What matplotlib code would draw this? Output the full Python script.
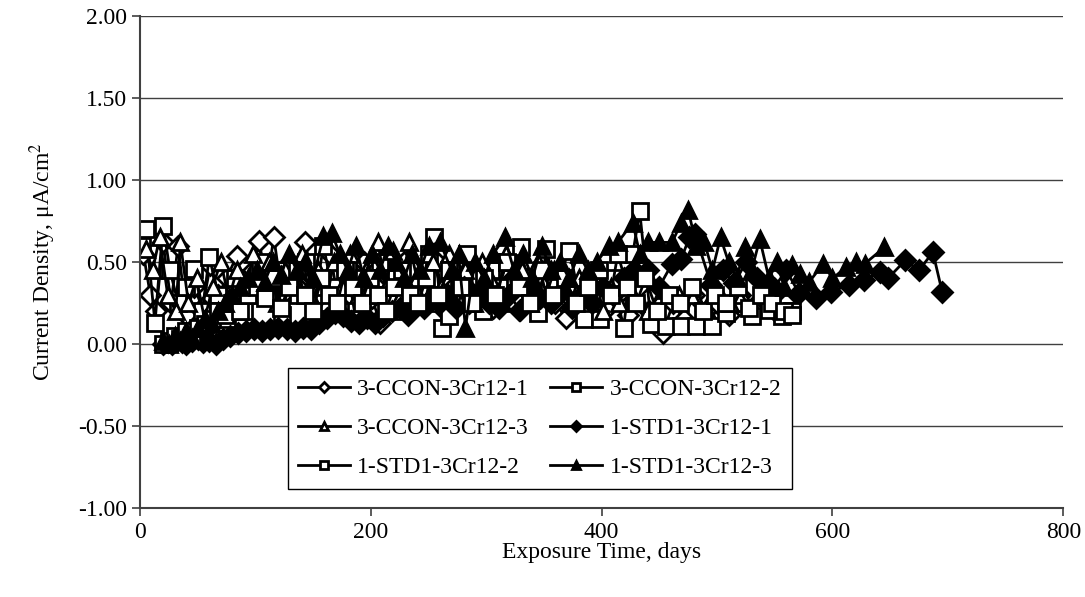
import matplotlib
matplotlib.use('Agg')
import matplotlib.pyplot as plt

plt.rcParams['font.family'] = ['Liberation Serif', 'DejaVu Serif']
plt.rcParams['mathtext.fontset'] = 'stix'

# ---- data (days, uA/cm2) ----
ccon1_x = [3, 9, 14, 20, 27, 33, 40, 47, 54, 61, 68, 75, 84, 91, 98, 103, 110, 116, 123, 130,
           137, 143, 150, 158, 165, 172, 180, 187, 194, 201, 208, 215, 222, 229, 236, 243, 250, 257, 264, 271,
           278, 285, 292, 299, 306, 313, 320, 328, 336, 344, 352, 360, 369, 378, 387, 396, 405, 414, 423, 432,
           441, 453, 462, 471, 480, 490, 500, 510, 520, 530, 540, 550, 560]
ccon1_y = [0.55, 0.30, 0.20, 0.62, 0.25, 0.60, 0.18, 0.35, 0.22, 0.48, 0.30, 0.40, 0.54, 0.28, 0.45, 0.63, 0.38, 0.65, 0.30, 0.50,
           0.35, 0.62, 0.40, 0.30, 0.55, 0.25, 0.45, 0.35, 0.50, 0.28, 0.13, 0.40, 0.30, 0.50, 0.25, 0.42, 0.30, 0.50, 0.20, 0.35,
           0.45, 0.25, 0.40, 0.30, 0.22, 0.45, 0.35, 0.21, 0.40, 0.30, 0.45, 0.25, 0.16, 0.35, 0.28, 0.40, 0.22, 0.30, 0.18, 0.35,
           0.20, 0.07, 0.25, 0.15, 0.30, 0.20, 0.25, 0.18, 0.30, 0.22, 0.28, 0.20, 0.25]

ccon2_x = [2, 5, 13, 20, 26, 33, 40, 47, 54, 60, 68, 75, 82, 90, 97, 104, 111, 118, 123, 130,
           137, 144, 151, 159, 166, 173, 180, 187, 194, 201, 208, 215, 222, 229, 236, 243, 250, 255, 262, 268,
           276, 283, 290, 297, 304, 311, 318, 325, 330, 338, 345, 352, 360, 372, 385, 399, 410, 419, 427, 433,
           443, 456, 469, 482, 496, 508, 519, 530, 545, 556, 565]
ccon2_y = [0.60, 0.70, 0.13, 0.72, 0.45, 0.25, 0.35, 0.46, 0.20, 0.53, 0.30, 0.15, 0.40, 0.20, 0.35, 0.50, 0.30, 0.45, 0.18, 0.40,
           0.30, 0.50, 0.25, 0.60, 0.35, 0.20, 0.45, 0.15, 0.40, 0.30, 0.50, 0.25, 0.40, 0.20, 0.45, 0.30, 0.55, 0.65, 0.10, 0.17,
           0.40, 0.55, 0.30, 0.20, 0.45, 0.35, 0.50, 0.25, 0.59, 0.30, 0.19, 0.58, 0.35, 0.57, 0.15, 0.15, 0.40, 0.10, 0.55, 0.81,
           0.12, 0.11, 0.11, 0.11, 0.11, 0.19, 0.25, 0.17, 0.21, 0.17, 0.20]

ccon3_x = [5, 11, 17, 24, 31, 35, 42, 49, 56, 63, 70, 77, 84, 91, 98, 105, 112, 119, 126, 133,
           140, 147, 154, 161, 168, 175, 182, 189, 196, 206, 213, 219, 226, 233, 240, 247, 254, 261, 268, 275,
           282, 289, 296, 303, 310, 317, 324, 331, 338, 345, 352, 359, 366, 373, 380, 387, 394, 401, 408, 415,
           427, 440, 453, 467, 480, 490, 501, 511, 522]
ccon3_y = [0.58, 0.45, 0.65, 0.30, 0.20, 0.62, 0.25, 0.40, 0.15, 0.35, 0.50, 0.28, 0.45, 0.30, 0.55, 0.35, 0.50, 0.25, 0.45, 0.38,
           0.55, 0.30, 0.45, 0.25, 0.50, 0.35, 0.55, 0.30, 0.45, 0.62, 0.35, 0.57, 0.30, 0.62, 0.40, 0.25, 0.50, 0.35, 0.55, 0.30,
           0.45, 0.25, 0.50, 0.40, 0.30, 0.55, 0.35, 0.45, 0.25, 0.50, 0.30, 0.45, 0.35, 0.25, 0.40, 0.30, 0.45, 0.20, 0.35, 0.25,
           0.30, 0.20, 0.33, 0.30, 0.30, 0.22, 0.33, 0.25, 0.30]

std1_x = [20, 24, 28, 32, 36, 40, 45, 50, 55, 60, 66, 72, 78, 85, 92, 99, 106, 113, 120, 127,
          134, 141, 148, 155, 162, 169, 176, 183, 190, 197, 204, 211, 218, 225, 232, 239, 246, 253, 260, 267,
          274, 281, 288, 295, 302, 311, 320, 329, 338, 347, 356, 365, 374, 383, 392, 401, 410, 419, 428, 440,
          450, 461, 469, 476, 481, 495, 505, 515, 525, 535, 549, 560, 571, 586, 599, 614, 627, 641, 648, 663,
          675, 687, 695]
std1_y = [0.00, 0.01, 0.00, 0.02, 0.01, 0.00, 0.02, 0.03, 0.01, 0.02, 0.00, 0.03, 0.05, 0.07, 0.08, 0.09, 0.08, 0.09, 0.10, 0.09,
          0.08, 0.10, 0.09, 0.13, 0.16, 0.19, 0.17, 0.14, 0.13, 0.16, 0.13, 0.17, 0.20, 0.22, 0.18, 0.25, 0.22, 0.28, 0.25, 0.30,
          0.22, 0.35, 0.28, 0.32, 0.25, 0.22, 0.30, 0.21, 0.35, 0.28, 0.25, 0.32, 0.22, 0.30, 0.25, 0.35, 0.30, 0.40, 0.45, 0.45,
          0.35, 0.49, 0.52, 0.65, 0.67, 0.36, 0.45, 0.37, 0.50, 0.40, 0.34, 0.45, 0.31, 0.28, 0.32, 0.36, 0.39, 0.44, 0.40, 0.51,
          0.45, 0.56, 0.32]

std2_x = [20, 25, 30, 35, 40, 45, 50, 56, 62, 68, 74, 80, 87, 94, 101, 108, 115, 122, 129, 136,
          143, 150, 157, 164, 171, 178, 185, 192, 199, 206, 213, 220, 227, 234, 241, 248, 258, 268, 278, 288,
          298, 308, 318, 328, 338, 348, 358, 368, 378, 388, 398, 408, 414, 422, 430, 438, 448, 458, 468, 478,
          488, 498, 508, 518, 528, 538, 548, 558, 565]
std2_y = [0.00, 0.02, 0.05, 0.03, 0.08, 0.05, 0.10, 0.12, 0.15, 0.20, 0.18, 0.25, 0.20, 0.30, 0.35, 0.28, 0.40, 0.22, 0.35, 0.45,
          0.30, 0.20, 0.40, 0.30, 0.25, 0.45, 0.35, 0.25, 0.40, 0.30, 0.20, 0.35, 0.45, 0.30, 0.25, 0.40, 0.30, 0.45, 0.35, 0.25,
          0.40, 0.30, 0.50, 0.35, 0.25, 0.45, 0.30, 0.40, 0.25, 0.35, 0.45, 0.30, 0.55, 0.35, 0.25, 0.40, 0.20, 0.30, 0.25, 0.35,
          0.20, 0.30, 0.25, 0.35, 0.22, 0.30, 0.25, 0.20, 0.18]

std3_x = [20, 25, 30, 35, 40, 45, 50, 56, 62, 68, 74, 80, 87, 94, 101, 108, 115, 122, 129, 136,
          143, 150, 159, 166, 173, 180, 187, 194, 201, 208, 215, 222, 229, 236, 243, 250, 260, 270, 276, 282,
          290, 298, 306, 316, 324, 332, 340, 348, 356, 364, 372, 380, 388, 396, 406, 414, 427, 433, 440, 450,
          461, 469, 475, 482, 489, 496, 503, 510, 517, 524, 530, 537, 545, 552, 558, 565, 572, 580, 592, 600,
          612, 620, 628, 645]
std3_y = [0.02, 0.00, 0.05, 0.02, 0.08, 0.04, 0.10, 0.15, 0.12, 0.20, 0.25, 0.30, 0.35, 0.40, 0.45, 0.38, 0.50, 0.42, 0.55, 0.45,
          0.50, 0.40, 0.66, 0.68, 0.55, 0.45, 0.60, 0.40, 0.55, 0.45, 0.60, 0.50, 0.40, 0.55, 0.45, 0.60, 0.62, 0.45, 0.55, 0.10,
          0.50, 0.40, 0.55, 0.65, 0.45, 0.55, 0.40, 0.60, 0.45, 0.50, 0.40, 0.55, 0.45, 0.50, 0.60, 0.62, 0.74, 0.55, 0.62, 0.62,
          0.62, 0.74, 0.82, 0.60, 0.62, 0.45, 0.65, 0.50, 0.40, 0.59, 0.45, 0.64, 0.40, 0.50, 0.35, 0.48, 0.43, 0.38, 0.49, 0.40,
          0.47, 0.50, 0.49, 0.59]

labels = ['3-CCON-3Cr12-1', '3-CCON-3Cr12-2', '3-CCON-3Cr12-3',
          '1-STD1-3Cr12-1', '1-STD1-3Cr12-2', '1-STD1-3Cr12-3']
series = [(ccon1_x, ccon1_y, 'D', 'white'),
          (ccon2_x, ccon2_y, 's', 'white'),
          (ccon3_x, ccon3_y, '^', 'white'),
          (std1_x, std1_y, 'D', 'black'),
          (std2_x, std2_y, 's', 'white'),
          (std3_x, std3_y, '^', 'black')]

fig = plt.figure(figsize=(10.85, 5.97), dpi=100)
ax = fig.add_axes([0.129, 0.149, 0.851, 0.824])

handles = []
for (x, y, mk, fc), lab in zip(series, labels):
    ms = 10 if mk == 'D' else 11.5
    h, = ax.plot(x, y, color='black', lw=2.0, marker=mk, markersize=ms,
                 markerfacecolor=fc, markeredgecolor='black', markeredgewidth=2.0,
                 label=lab)
    handles.append(h)

ax.set_xlim(0, 800)
ax.set_ylim(-1.0, 2.0)
ax.set_xticks([0, 200, 400, 600, 800])
ax.set_yticks([-1.0, -0.5, 0.0, 0.5, 1.0, 1.5, 2.0])
ax.set_yticklabels(['%.2f' % v for v in ax.get_yticks()])
ax.tick_params(axis='both', labelsize=17, direction='out', length=6, width=1.2, color='#404040')
ax.tick_params(axis='x', pad=4)
ax.grid(axis='y', color='#404040', lw=1.0)
ax.set_axisbelow(True)
for s in ['top', 'right']:
    ax.spines[s].set_visible(False)
for s in ['left', 'bottom']:
    ax.spines[s].set_color('#404040')
    ax.spines[s].set_linewidth(1.5)

ax.set_xlabel('Exposure Time, days', fontsize=17, labelpad=-1)
ax.set_ylabel('Current Density, μA/cm$^2$', fontsize=17, labelpad=14)

# row-major order like the original: reorder for column-filling legend
order = [0, 2, 4, 1, 3, 5]
leg = ax.legend([handles[i] for i in order], [labels[i] for i in order],
                ncol=2, loc='upper left', bbox_to_anchor=(0.16, 0.285),
                borderaxespad=0, fontsize=17, frameon=True, fancybox=False,
                framealpha=1, edgecolor='black', handlelength=2.2,
                handletextpad=0.3, columnspacing=0.9, labelspacing=0.75,
                borderpad=0.45, markerscale=0.55)
leg.get_frame().set_linewidth(1.0)

fig.savefig('out.png', dpi=100)
